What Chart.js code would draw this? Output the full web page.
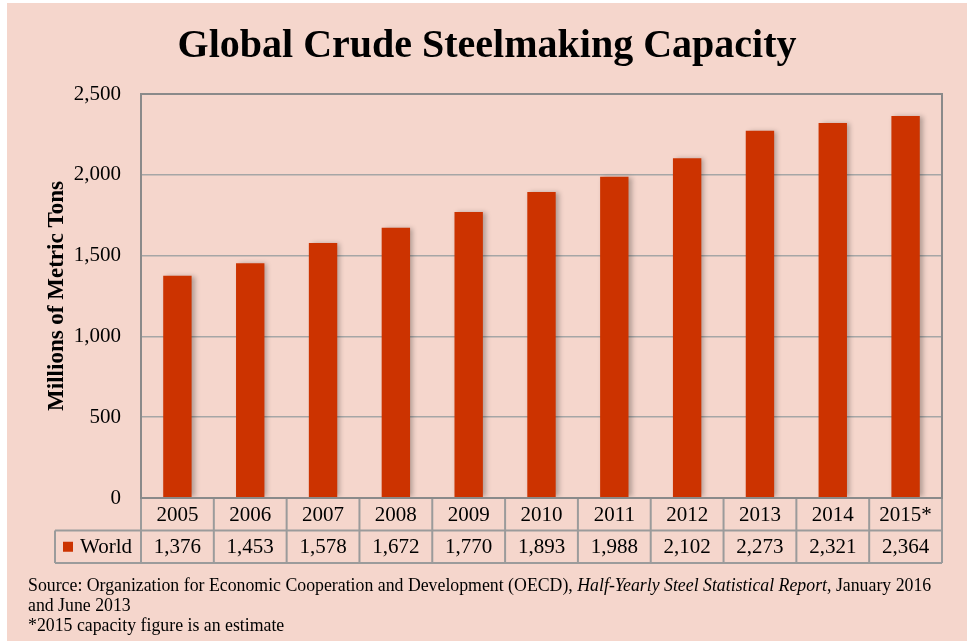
<!DOCTYPE html>
<html>
<head>
<meta charset="utf-8">
<script src="https://cdn.jsdelivr.net/npm/chart.js@4"></script>
<style>
  html, body { margin: 0; padding: 0; background: #ffffff; }
  #wrap { position: absolute; left: 7px; top: 3px; width: 960px; height: 638px; background: #f5d6cc; }
  #chart { position: absolute; left: 0; top: 0; }
  #note { position: absolute; left: 21px; top: 572px; font: 17.8px "Liberation Serif", "Times New Roman", serif; line-height: 20px; color: #000; }
</style>
</head>
<body>
<div id="wrap">
  <canvas id="chart" width="960" height="638"></canvas>
  <div id="note">Source: Organization for Economic Cooperation and Development (OECD), <i>Half-Yearly Steel Statistical Report</i>, January 2016<br>and June 2013<br>*2015 capacity figure is an estimate</div>
</div>
<script>
// Crude steelmaking capacity, millions of metric tons
const years = ['2005', '2006', '2007', '2008', '2009', '2010', '2011', '2012', '2013', '2014', '2015*'];
const capacity = [1376, 1453, 1578, 1672, 1770, 1893, 1988, 2102, 2273, 2321, 2364];
const seriesName = 'World';
const chartTitle = 'Global Crude Steelmaking Capacity';
const barColor = '#cc3300';
const serif = '"Liberation Serif", "Times New Roman", serif';

const fmt = v => v.toLocaleString('en-US');

// Soft grey drop shadow behind the bars
const barShadow = {
  id: 'barShadow',
  beforeDatasetsDraw(chart) {
    const c = chart.ctx;
    c.save();
    c.shadowColor = 'rgba(0,0,0,0.28)';
    c.shadowBlur = 5;
    c.shadowOffsetX = 3;
    c.shadowOffsetY = 0;
  },
  afterDatasetsDraw(chart) { chart.ctx.restore(); }
};

// Title centred across the full canvas width
const headline = {
  id: 'headline',
  afterDraw(chart) {
    const ctx = chart.ctx;
    ctx.save();
    ctx.fillStyle = '#000';
    ctx.font = 'bold 40px ' + serif;
    ctx.textAlign = 'center';
    ctx.textBaseline = 'alphabetic';
    ctx.fillText(chartTitle, chart.width / 2, 54);
    ctx.restore();
  }
};

// Plot frame plus the year/value data table under the x axis
const dataTable = {
  id: 'dataTable',
  afterDraw(chart) {
    const { ctx, chartArea: a, scales: { x } } = chart;
    const n = years.length;
    const half = (a.right - a.left) / n / 2;
    const rowH = 32.5;
    const y0 = a.bottom, y1 = y0 + rowH, y2 = y1 + rowH;
    const labelLeft = a.left - 86;

    ctx.save();
    // table cells
    ctx.strokeStyle = '#9b9b9b';
    ctx.lineWidth = 2;
    ctx.beginPath();
    ctx.moveTo(labelLeft, y1); ctx.lineTo(a.right, y1);
    ctx.moveTo(labelLeft, y2); ctx.lineTo(a.right, y2);
    ctx.moveTo(labelLeft, y1); ctx.lineTo(labelLeft, y2);
    ctx.moveTo(a.left, y0); ctx.lineTo(a.left, y2);
    for (let i = 0; i < n; i++) {
      const xr = x.getPixelForValue(i) + half;
      ctx.moveTo(xr, y0); ctx.lineTo(xr, y2);
    }
    ctx.stroke();

    // plot frame
    ctx.strokeStyle = '#8a8a8a';
    ctx.strokeRect(a.left, a.top, a.right - a.left, a.bottom - a.top);

    // cell text
    ctx.fillStyle = '#000';
    ctx.font = '21px ' + serif;
    ctx.textAlign = 'center';
    ctx.textBaseline = 'middle';
    for (let i = 0; i < n; i++) {
      const cx = x.getPixelForValue(i);
      ctx.fillText(years[i], cx, (y0 + y1) / 2 + 1);
      ctx.fillText(fmt(capacity[i]), cx, (y1 + y2) / 2 + 1);
    }
    // series key
    ctx.fillStyle = barColor;
    ctx.fillRect(labelLeft + 8, (y1 + y2) / 2 - 5, 10, 10);
    ctx.fillStyle = '#000';
    ctx.textAlign = 'left';
    ctx.fillText(seriesName, labelLeft + 25, (y1 + y2) / 2 + 1);
    ctx.restore();
  }
};

new Chart(document.getElementById('chart'), {
  type: 'bar',
  data: {
    labels: years,
    datasets: [{
      label: seriesName,
      data: capacity,
      backgroundColor: barColor,
      borderWidth: 0,
      categoryPercentage: 1,
      barPercentage: 0.39
    }]
  },
  options: {
    responsive: false,
    animation: false,
    layout: { padding: { left: 0, right: 25, top: 91, bottom: 135 } },
    plugins: {
      legend: { display: false },
      tooltip: { enabled: false },
      title: { display: false }
    },
    scales: {
      x: {
        ticks: { display: false },
        grid: { display: false },
        border: { display: false }
      },
      y: {
        min: 0,
        max: 2500,
        afterFit(scale) { scale.width = 134; },
        ticks: {
          stepSize: 500,
          padding: 20,
          color: '#000',
          font: { family: serif, size: 21 },
          callback: v => fmt(v)
        },
        grid: { color: '#a6a6a6', lineWidth: 1.5, drawTicks: false },
        border: { display: false },
        title: {
          display: true,
          text: 'Millions of Metric Tons',
          color: '#000',
          font: { family: serif, size: 23, weight: 'bold' },
          padding: { top: 36, bottom: 0 }
        }
      }
    }
  },
  plugins: [barShadow, dataTable, headline]
});
</script>
</body>
</html>
